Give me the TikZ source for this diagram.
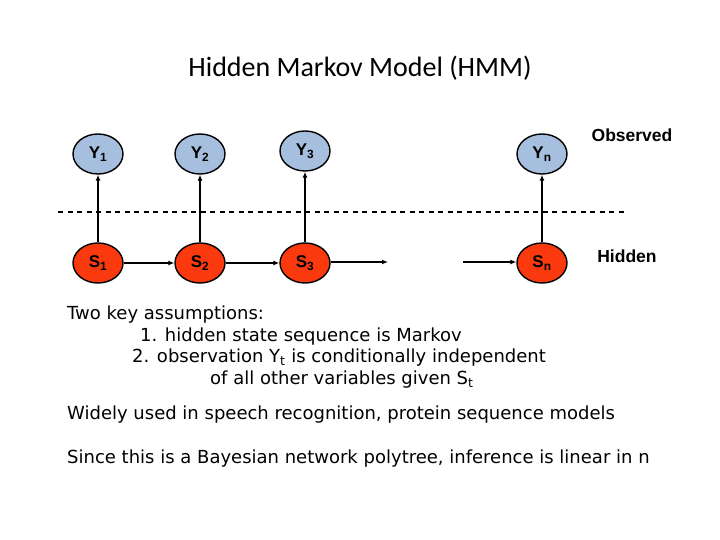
\documentclass[tikz,border=0pt]{standalone}
\usepackage{fontspec}
\setmainfont{DejaVu Sans}
\newfontfamily\labelfont{Liberation Sans}
\newfontfamily\titlefont{Carlito}
\usetikzlibrary{arrows.meta, shapes.geometric}
\definecolor{obsblue}{RGB}{166,191,222}
\definecolor{hidred}{RGB}{250,58,14}
\tikzset{
    varnode/.style={ellipse, draw=black, line width=1.4pt, minimum width=50pt, minimum height=40pt, inner sep=0pt, font=\labelfont\bfseries\fontsize{17}{17}\selectfont},
    obsnode/.style={varnode, fill=obsblue},
    hidnode/.style={varnode, fill=hidred},
    link/.style={line width=1.8pt, -{Latex[length=6pt, width=5pt]}},
    sidetext/.style={font=\labelfont\bfseries\fontsize{17.5}{17.5}\selectfont},
    bodytext/.style={anchor=west, inner sep=0pt, text height=0.72em, text depth=0pt, font=\fontsize{18}{18}\selectfont}
}
\begin{document}
\begin{tikzpicture}[line cap=butt, line join=round, x=1pt, y=-1pt]
    \useasboundingbox (0,0) rectangle (720,540);
    \node[font=\titlefont\fontsize{28}{28}\selectfont] (title) at (360,68) {Hidden Markov Model (HMM)};
    % dashed separation line
    \coordinate (sepL) at (58,212);
    \coordinate (sepR) at (624,212);
    \draw[line width=2.5pt, dash pattern=on 5pt off 4.5pt] (sepL) -- (sepR);
    % observed and hidden variables
    \foreach \i/\x/\yy in {1/98/154, 2/200/154, 3/305/151, n/542/154} {
        \node[obsnode] (y\i) at (\x,\yy) {Y\textsubscript{\i}};
        \node[hidnode] (s\i) at (\x,263) {S\textsubscript{\i}};
        \draw[link] (s\i) -- (y\i);
    }
    \coordinate (gapL) at (388,262);
    \coordinate (gapR) at (463,262);
    \draw[link] (s1) -- (s2);
    \draw[link] (s2) -- (s3);
    \draw[link] (s3.east |- gapL) -- (gapL);
    \draw[link] (gapR) -- (sn.west |- gapR);
    \node[sidetext] (observed) at (632,135) {Observed};
    \node[sidetext] (hidden) at (627,256) {Hidden};
    % text below the model
    \node[bodytext] (assume) at (67,316) {Two key assumptions:};
    \node[bodytext] (first) at (140,338) {1. hidden state sequence is Markov};
    \node[bodytext] (second) at (132,359) {2. observation Y\textsubscript{t} is conditionally independent};
    \node[bodytext] (given) at (210,381) {of all other variables given S\textsubscript{t}};
    \node[bodytext] (used) at (67,416) {Widely used in speech recognition, protein sequence models};
    \node[bodytext] (since) at (67,460) {Since this is a Bayesian network polytree, inference is linear in n};
\end{tikzpicture}
\end{document}
